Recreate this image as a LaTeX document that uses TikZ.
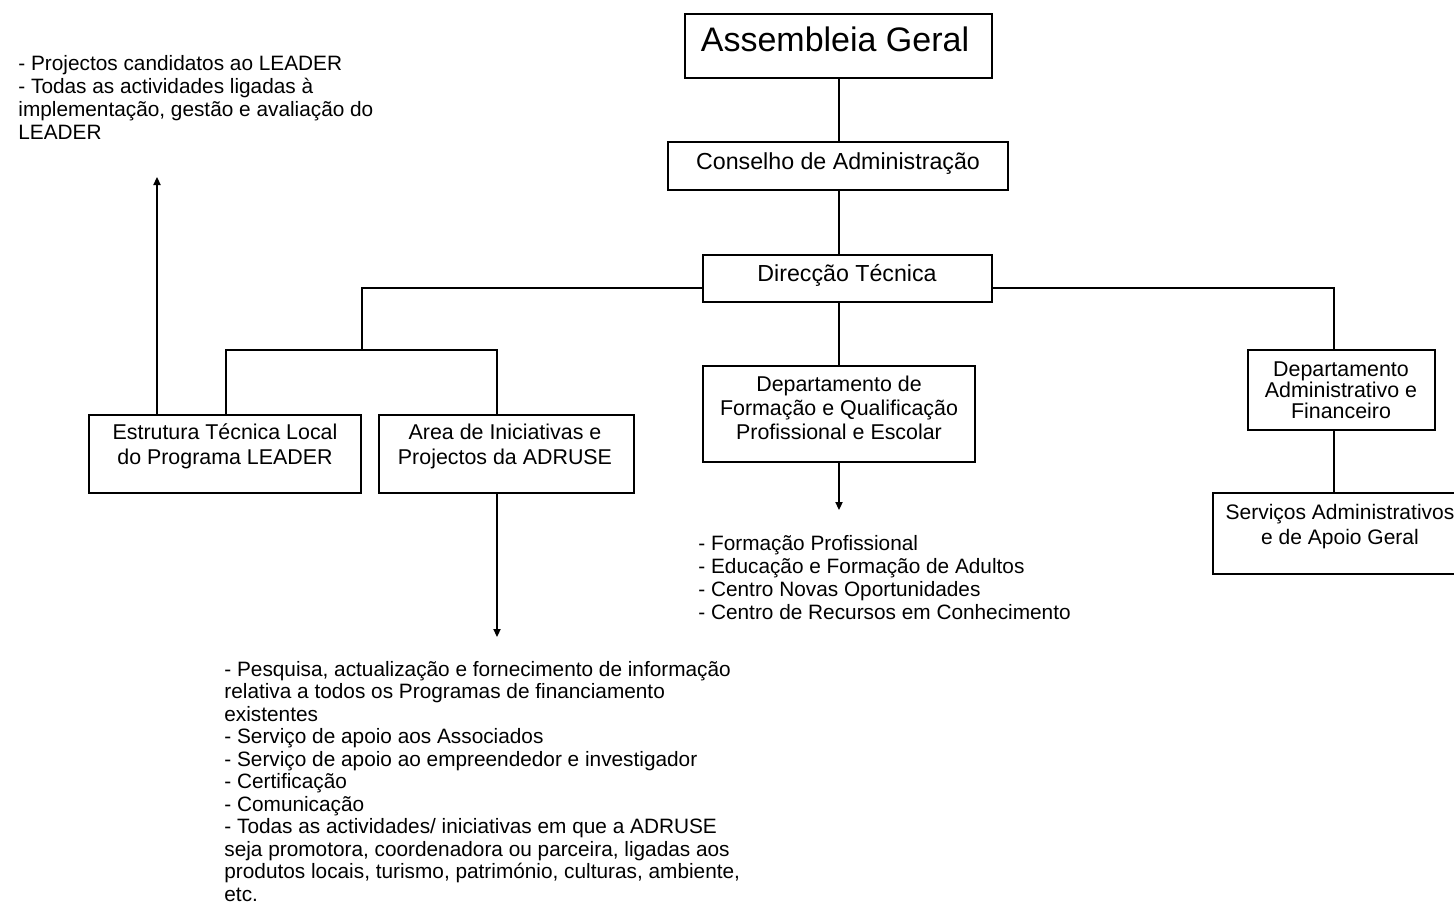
\documentclass[tikz,border=0pt]{standalone}
\usepackage{fontspec}
\setmainfont{Liberation Sans}
\usetikzlibrary{arrows.meta}
\begin{document}
\begin{tikzpicture}[x=0.5pt,y=-0.5pt,
  conn/.style={line width=0.7pt},
  arr/.style={line width=0.7pt,-{Triangle[length=4pt,width=3.6pt]}},
  box/.style={draw,line width=0.7pt,rectangle,inner sep=0pt},
  txt/.style={font=\fontsize{10.7}{12.5}\selectfont,inner sep=0pt,align=center,anchor=base},
  list/.style={font=\fontsize{10.4}{11.5}\selectfont,inner sep=0pt,align=left,anchor=base west}
]
\useasboundingbox (0,0) rectangle (1454,905);
% boxes
\node[box,minimum width=153.5pt,minimum height=32pt] (ag) at (838.5,46) {};
\node[box,minimum width=170pt,minimum height=24pt] (ca) at (838,166) {};
\node[box,minimum width=144.5pt,minimum height=23.5pt] (dt) at (847.5,278.5) {};
\node[box,minimum width=136pt,minimum height=39pt] (et) at (225,454) {};
\node[box,minimum width=127.5pt,minimum height=39pt] (ai) at (506.5,454) {};
\node[box,minimum width=136pt,minimum height=48pt] (df) at (839,414) {};
\node[box,minimum width=93.5pt,minimum height=40pt] (da) at (1341.5,390) {};
\node[box,minimum width=128.5pt,minimum height=40.5pt] (sa) at (1341.5,533.5) {};
% box texts (anchor = baseline of last line)
\node[txt,font=\fontsize{17}{19}\selectfont] (agt) at (835,51) {Assembleia Geral};
\node[txt,font=\fontsize{11.6}{13}\selectfont] (cat) at (838,169) {Conselho de Administração};
\node[txt,font=\fontsize{11.6}{13}\selectfont] (dtt) at (847,281) {Direcção Técnica};
\node[txt] (ett) at (225,464) {Estrutura Técnica Local\\do Programa LEADER};
\node[txt] (ait) at (505,464) {Area de Iniciativas e\\Projectos da ADRUSE};
\node[txt,font=\fontsize{10.7}{12}\selectfont] (dft) at (839,439) {Departamento de\\Formação e Qualificação\\Profissional e Escolar};
\node[txt,font=\fontsize{10.7}{10.5}\selectfont] (dat) at (1341,418) {Departamento\\Administrativo e\\Financeiro};
\node[txt,font=\fontsize{10.5}{12.5}\selectfont] (sat) at (1340,544) {Serviços Administrativos\\e de Apoio Geral};
% lists
\node[list] (l1) at (18,139) {- Projectos candidatos ao LEADER\\- Todas as actividades ligadas à\\implementação, gestão e avaliação do\\LEADER};
\node[list] (l2) at (698,619) {- Formação Profissional\\- Educação e Formação de Adultos\\- Centro Novas  Oportunidades\\- Centro de Recursos em Conhecimento};
\node[list,font=\fontsize{10.4}{11.25}\selectfont] (l3) at (224,901) {- Pesquisa, actualização e fornecimento de informação\\relativa a todos os Programas de financiamento\\existentes\\- Serviço de apoio aos Associados\\- Serviço de apoio ao empreendedor e investigador\\- Certificação\\- Comunicação\\- Todas as actividades/ iniciativas em que a ADRUSE\\seja promotora, coordenadora ou parceira, ligadas aos\\produtos locais, turismo, património, culturas, ambiente,\\etc.};
% connectors
\coordinate (lb) at (362,288);
\coordinate (lj) at (362,350);
\coordinate (la) at (226,350);
\coordinate (lc) at (497,350);
\coordinate (rb) at (1334,288);
\coordinate (upt) at (157,177);
\coordinate (dnt) at (497,637);
\coordinate (ft) at (839,510);
\draw[conn] (ag.south -| 839,0) -- (ca.north -| 839,0);
\draw[conn] (ca.south -| 839,0) -- (dt.north -| 839,0);
\draw[conn] (dt.south -| df.north) -- (df.north);
\draw[conn] (dt.west |- lb) -- (lb) -- (lj);
\draw[conn] (et.north -| la) -- (la) -- (lc) -- (ai.north -| lc);
\draw[conn] (dt.east |- rb) -- (rb) -- (da.north -| rb);
\draw[conn] (da.south -| rb) -- (sa.north -| rb);
\draw[arr] (et.north -| upt) -- (upt);
\draw[arr] (ai.south -| dnt) -- (dnt);
\draw[arr] (df.south) -- (ft);
\end{tikzpicture}
\end{document}
